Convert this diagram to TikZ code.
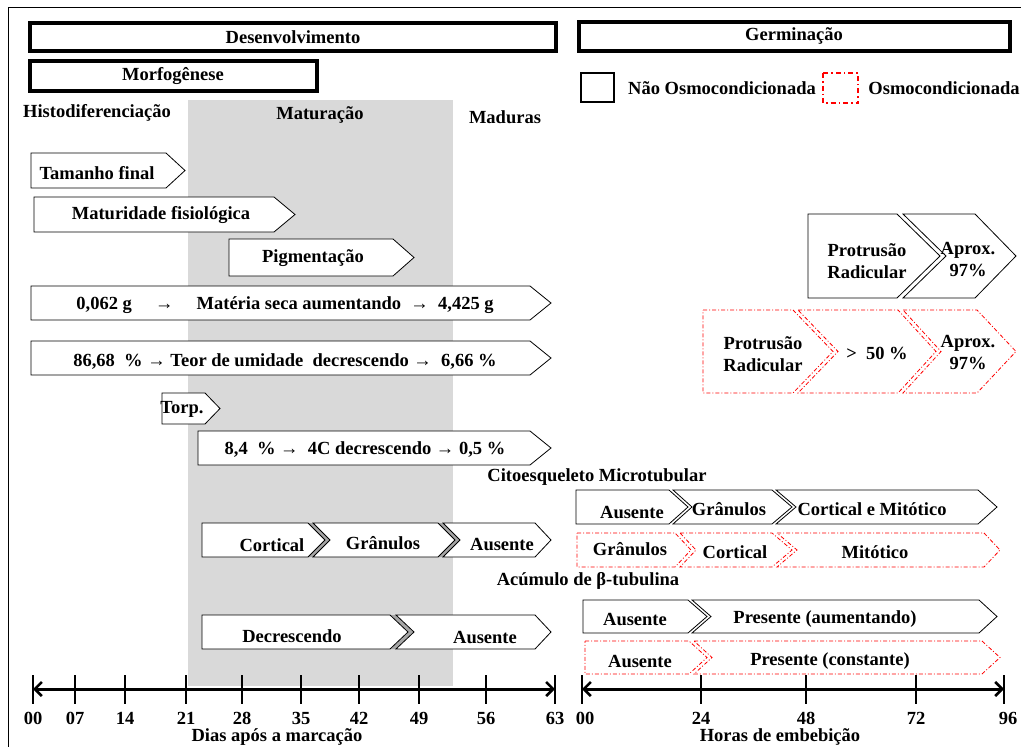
\documentclass[tikz,border=0pt]{standalone}
\usepackage{fontspec}
\setmainfont{Liberation Serif}
\usetikzlibrary{arrows.meta}
\newcommand{\chevpath}[7]{%
  \path[#1] (#2,#6) -- (#4,#6) -- (#5,{(#6+#7)/2}) -- (#4,#7) -- (#2,#7) -- ({#2+#3},{(#6+#7)/2}) -- cycle;}
\newcommand{\gapfill}[6]{% x2 of previous, tip of previous, start of next, notch, top, bottom
  \path[fill=gapgray] (#1,#5) -- (#3,#5) -- ({#3+#4},{(#5+#6)/2}) -- (#3,#6) -- (#1,#6) -- (#2,{(#5+#6)/2}) -- cycle;}
\definecolor{bggray}{HTML}{D9D9D9}
\definecolor{gapgray}{HTML}{A6A6A6}
\tikzset{
  lbl/.style={font=\bfseries\fontsize{18.5}{22}\selectfont, inner sep=0pt, align=center},
  bigbox/.style={draw=black, line width=3.2pt},
  chevb/.style={draw=black, line width=0.8pt, fill=white},
  chevr/.style={draw=red, line width=0.8pt, fill=white, dash pattern=on 4pt off 2pt on 1pt off 2pt},
  axisline/.style={line width=3pt, {Straight Barb[length=7pt,width=14pt,line width=2.6pt]}-{Straight Barb[length=7pt,width=14pt,line width=2.6pt]}},
  tickmark/.style={line width=2.5pt}
}
\begin{document}
\begin{tikzpicture}[x=1pt,y=-1pt]
\useasboundingbox (0,0) rectangle (1021,747);
\fill[white] (0,0) rectangle (1021,747);
% frame
\draw[line width=1pt] (8,747) -- (8,7) -- (1021,7);
% grey maturation band
\fill[bggray] (188,100) rectangle (453,686);
% header boxes
\draw[bigbox] (30,23) rectangle (556,51);
\node[lbl] (desenv) at (293,37) {Desenvolvimento};
\draw[bigbox] (30,61) rectangle (317,91);
\node[lbl] (morfo) at (173,76) {Morfogênese};
\draw[bigbox] (579,22) rectangle (1010,51);
\node[lbl] (germ) at (794,36) {Germinação};
% legend
\draw[line width=1.8pt] (581,73) rectangle (614,102);
\node[lbl] (naoosmo) at (722,88) {Não Osmocondicionada};
\draw[draw=red, line width=1.4pt, dash pattern=on 5pt off 3pt on 1.5pt off 3pt] (823,73) rectangle (858,103);
\node[lbl] (osmo) at (944,88) {Osmocondicionada};
% phase labels
\node[lbl] (histo) at (97,113) {Histodiferenciação};
\node[lbl] (matur) at (320,115) {Maturação};
\node[lbl] (madur) at (505,117) {Maduras};
% left chevrons
\chevpath{chevb}{31}{0}{166}{185}{153}{188}
\node[lbl] (tam) at (97,173) {Tamanho final};
\chevpath{chevb}{34}{0}{274}{295}{197}{232}
\node[lbl] (matfis) at (161,215) {Maturidade fisiológica};
\chevpath{chevb}{229}{0}{393}{414}{239}{276}
\node[lbl] (pigm) at (313,258) {Pigmentação};
\chevpath{chevb}{31}{0}{530}{551}{286}{320}
\node[lbl] (mseca) at (285,305) {0,062 g \quad → \quad Matéria seca aumentando \ → \ 4,425 g};
\chevpath{chevb}{31}{0}{530}{551}{341}{375}
\node[lbl] (teor) at (285,362) {86,68 \ \% → Teor de umidade \ decrescendo → \ 6,66 \%};
\chevpath{chevb}{162}{0}{205}{220}{393}{424}
\node[lbl] (torp) at (182,409) {Torp.};
\chevpath{chevb}{198}{0}{530}{551}{431}{465}
\node[lbl] (quatroc) at (365,450) {8,4 \ \% → \ 4C decrescendo → 0,5 \%};
% cortical row
\gapfill{308}{325}{313}{17}{523}{557}
\gapfill{438}{455}{443}{17}{523}{557}
\chevpath{chevb}{202}{0}{308}{325}{523}{557}
\chevpath{chevb}{313}{17}{438}{455}{523}{557}
\chevpath{chevb}{443}{17}{535}{551}{523}{557}
\node[lbl] (lcort) at (272,545) {Cortical};
\node[lbl] (lgran) at (383,543) {Grânulos};
\node[lbl] (laus) at (502,545) {Ausente};
% decrescendo row
\gapfill{390}{408}{396}{18}{615}{649}
\chevpath{chevb}{202}{0}{390}{408}{615}{649}
\chevpath{chevb}{396}{18}{535}{551}{615}{649}
\node[lbl] (ldecr) at (292,636) {Decrescendo};
\node[lbl] (laus2) at (485,637) {Ausente};
% right: protrusion black
\chevpath{chevb}{808}{0}{897}{940}{214}{298}
\chevpath{chevb}{903}{43}{975}{1016}{214}{298}
\node[lbl] (prot) at (867,261) {Protrusão\\Radicular};
\node[lbl] (aprox) at (968,260) {Aprox.\\97\%};
% right: protrusion red
\chevpath{chevr}{703}{0}{793}{833}{310}{393}
\chevpath{chevr}{798}{40}{898}{936}{310}{393}
\chevpath{chevr}{903}{38}{977}{1016}{310}{393}
\node[lbl] (protr) at (763,354) {Protrusão\\Radicular};
\node[lbl] (cinq) at (877,353) {> \ 50 \%};
\node[lbl] (aproxr) at (968,353) {Aprox.\\97\%};
% cytoskeleton
\node[lbl] (cito) at (597,477) {Citoesqueleto Microtubular};
\chevpath{chevb}{576}{0}{669}{688}{490}{524}
\chevpath{chevb}{673}{19}{772}{792}{490}{524}
\chevpath{chevb}{776}{20}{978}{997}{490}{524}
\node[lbl] (caus) at (632,513) {Ausente};
\node[lbl] (cgran) at (729,509) {Grânulos};
\node[lbl] (ccm) at (872,509) {Cortical e Mitótico};
\chevpath{chevr}{577}{0}{675}{691}{533}{567}
\chevpath{chevr}{680}{16}{772}{792}{533}{567}
\chevpath{chevr}{777}{20}{984}{1000}{533}{567}
\node[lbl] (rgran) at (630,549) {Grânulos};
\node[lbl] (rcort) at (735,552) {Cortical};
\node[lbl] (rmit) at (875,552) {Mitótico};
% beta tubulin
\node[lbl] (beta) at (588,581) {Acúmulo de β-tubulina};
\chevpath{chevb}{583}{0}{688}{707}{600}{633}
\chevpath{chevb}{692}{19}{979}{997}{600}{633}
\node[lbl] (baus) at (635,619) {Ausente};
\node[lbl] (bpres) at (825,619) {Presente (aumentando)};
\chevpath{chevr}{585}{0}{689}{707}{641}{674}
\chevpath{chevr}{694}{18}{982}{1000}{641}{674}
\node[lbl] (braus) at (640,661) {Ausente};
\node[lbl] (brpres) at (830,661) {Presente (constante)};
% left axis
\coordinate (la0) at (33,689);
\coordinate (la1) at (555,689);
\draw[axisline] (la0) -- (la1);
\foreach \x/\t in {33/00,75/07,125/14,186/21,242/28,301/35,359/42,419/49,486/56,555/63}{
  \draw[tickmark] (\x,675) -- (\x,704);
  \node[lbl] (lt\t) at (\x,718) {\t};
}
\node[lbl] (ltitle) at (277,737) {Dias após a marcação};
% right axis
\coordinate (ra0) at (582,689);
\coordinate (ra1) at (1004,689);
\draw[axisline] (ra0) -- (ra1);
\foreach \x/\t/\lx in {582/00/585,701/24/701,806/48/806,916/72/916,1004/96/1008}{
  \draw[tickmark] (\x,675) -- (\x,704);
  \node[lbl] (rt\t) at (\lx,718) {\t};
}
\node[lbl] (rtitle) at (780,737) {Horas de embebição};
\end{tikzpicture}
\end{document}
